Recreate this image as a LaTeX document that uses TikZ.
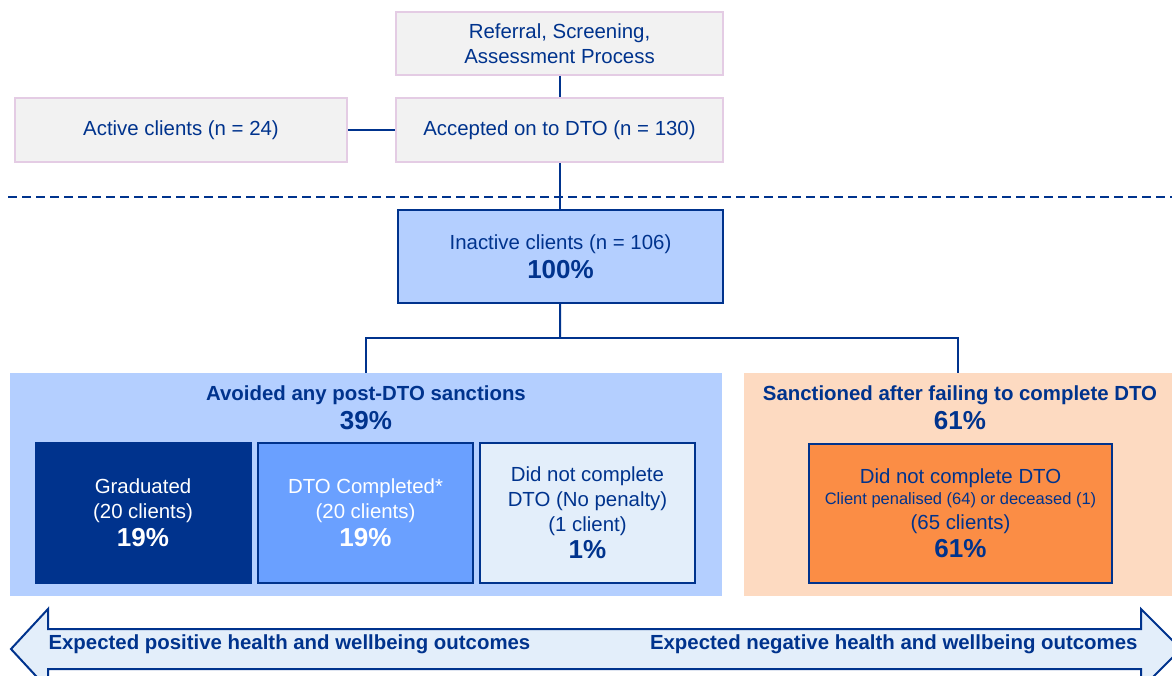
\documentclass[tikz,border=0pt]{standalone}
\usepackage{fontspec}
\setmainfont{Liberation Sans}

\definecolor{navy}{RGB}{0,51,141}
\definecolor{greybox}{RGB}{242,242,242}
\definecolor{lilac}{RGB}{228,204,228}
\definecolor{paleblue}{RGB}{180,207,255}
\definecolor{midblue}{RGB}{106,160,255}
\definecolor{iceblue}{RGB}{227,238,250}
\definecolor{peach}{RGB}{253,218,193}
\definecolor{sanctorange}{RGB}{251,141,69}

\newcommand\bodyfont{\fontsize{20.4}{25}\selectfont}
\newcommand\smallfont{\fontsize{16.5}{21}\selectfont}
\newcommand\pct{\fontsize{26}{28}\selectfont\bfseries}

\tikzset{
  stage/.style={draw=lilac, line width=1.5pt, fill=greybox, text=navy,
    align=center, inner sep=0pt, font=\bodyfont},
  outcome/.style={draw=navy, line width=2pt, text=navy, align=center,
    inner sep=0pt, minimum width=215pt, minimum height=140pt, font=\bodyfont},
  panel/.style={inner sep=0pt, minimum height=223pt},
  paneltitle/.style={text=navy, align=center, font=\bodyfont\bfseries},
  link/.style={draw=navy, line width=2pt}
}

\begin{document}
\begin{tikzpicture}[x=1pt,y=-1pt]
        \useasboundingbox (0,0) rectangle (1172,675);

        % top of the pathway
        \node[stage, minimum width=327pt, minimum height=63pt] (ref) at (559.5,43.5)
              {Referral, Screening,\\Assessment Process};
        \node[stage, minimum width=327pt, minimum height=64pt] (accepted) at (559.5,130)
              {Accepted on to DTO (n = 130)};
        \node[stage, minimum width=332pt, minimum height=64pt] (active) at (181,130)
              {Active clients (n = 24)};

        \draw[link] (ref) -- (accepted);
        \draw[link] (active) -- (accepted);

        \coordinate (cutL) at (8,197);
        \coordinate (cutR) at (1172,197);
        \draw[navy, line width=1.5pt, dash pattern=on 9pt off 5pt] (cutL) -- (cutR);

        \node[outcome, fill=paleblue, minimum width=325pt, minimum height=93pt] (inactive) at (560.5,256.5)
              {Inactive clients (n = 106)\\[4pt]{\pct 100\%}};
        \draw[link] (accepted.south) -- (accepted.south |- inactive.north);

        % the two groups
        \node[panel, fill=paleblue, minimum width=712pt] (avoided) at (366,484.5) {};
        \node[panel, fill=peach, minimum width=428pt] (sanctioned) at (958,484.5) {};

        \coordinate (split) at (560,338);
        \draw[link] (inactive) -- (split);
        \draw[link] (avoided.north) |- (split) -| (sanctioned.north);

        \node[paneltitle] (avoidedtitle) at (366,408)
              {Avoided any post-DTO sanctions\\[4pt]{\pct 39\%}};
        \node[paneltitle] (sanctionedtitle) at (960,408)
              {Sanctioned after failing to complete DTO\\[4pt]{\pct 61\%}};

        \node[outcome, fill=navy, draw=navy, text=white] (graduated) at (143,513)
              {Graduated\\(20 clients)\\[3pt]{\pct 19\%}};
        \node[outcome, fill=midblue, text=white] (completed) at (365.5,513)
              {DTO Completed*\\(20 clients)\\[3pt]{\pct 19\%}};
        \node[outcome, fill=iceblue] (nopenalty) at (587.5,513)
              {Did not complete\\DTO (No penalty)\\(1 client)\\[2pt]{\pct 1\%}};
        \node[outcome, fill=sanctorange, minimum width=303pt, minimum height=139pt] (failed) at (960.5,513.5)
              {Did not complete DTO\\[-4pt]{\smallfont Client penalised (64) or deceased (1)}\\(65 clients)\\[3pt]{\pct 61\%}};

        % outcome arrow
        \draw[navy, line width=2pt, fill=iceblue, line join=miter]
              (11,649) -- (48,609) -- (48,629) -- (1141,629) -- (1141,609) -- (1181,649)
              -- (1141,689) -- (1141,669) -- (48,669) -- (48,689) -- cycle;
        \node[paneltitle, anchor=west] (positive) at (45,644)
              {Expected positive health and wellbeing outcomes};
        \node[paneltitle, anchor=east] (negative) at (1141,644)
              {Expected negative health and wellbeing outcomes};
      \end{tikzpicture}
\end{document}
